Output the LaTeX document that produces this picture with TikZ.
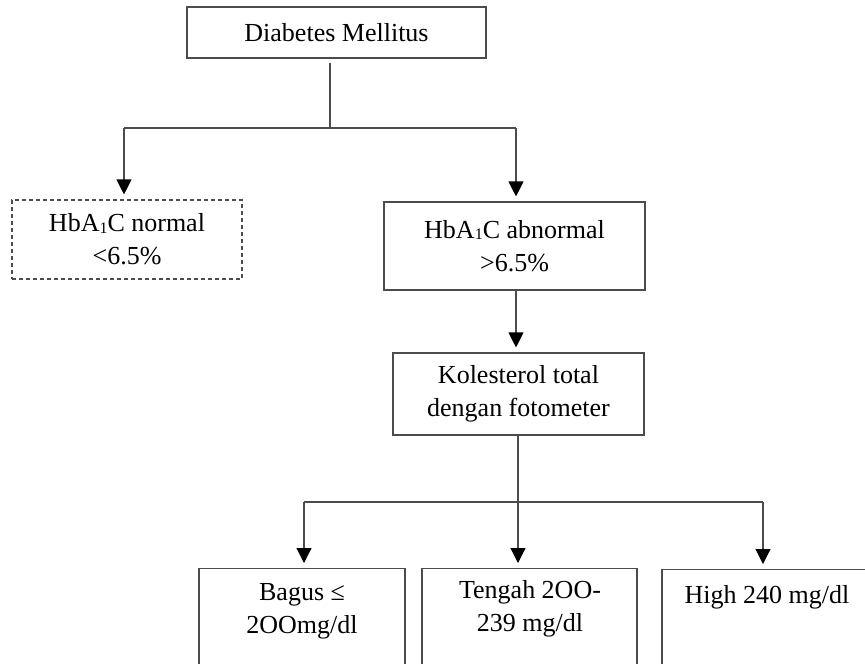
\documentclass[tikz,border=0pt]{standalone}
\usepackage{fontspec}
\setmainfont{Liberation Serif}
\usetikzlibrary{arrows.meta}
\newcommand{\subone}{\raisebox{-1.5pt}{\fontsize{16}{16}\selectfont 1}}
\begin{document}
\begin{tikzpicture}[x=1pt,y=-1pt,
  lncol/.style={draw=black!70,line width=1.1pt},
  box/.style={lncol,inner sep=0pt},
  dbox/.style={box,dash pattern=on 4pt off 3pt},
  txt/.style={align=center,font=\fontsize{26}{33}\selectfont,inner sep=0pt,text=black},
  arr/.style={lncol,-{Triangle[width=15pt,length=15pt,color=black,fill=black]},shorten >=5pt},
  ln/.style={lncol}]
\useasboundingbox (0,0) rectangle (865,664);
\clip (0,0) rectangle (865,664);
% boxes
\node[box,txt,minimum width=299pt,minimum height=51pt] (dm) at (336.5,32.5) {Diabetes Mellitus};
\node[dbox,txt,minimum width=230pt,minimum height=79pt] (norm) at (127,239.5) {HbA\subone C normal\\<6.5\%};
\node[box,txt,minimum width=261pt,minimum height=88pt] (abn) at (514.5,246) {HbA\subone C abnormal\\>6.5\%};
\node[box,txt,minimum width=251pt,minimum height=82pt] (kol) at (518.5,394) {Kolesterol total\\dengan fotometer};
\node[box,minimum width=206pt,minimum height=132pt,anchor=north] (b1) at (302,568) {};
\node[box,minimum width=215pt,minimum height=132pt,anchor=north] (b2) at (529.5,568) {};
\node[box,minimum width=238pt,minimum height=132pt,anchor=north] (b3) at (781,569) {};
\node[txt] (t1) at (302,611) {Bagus ≤\\2OOmg/dl};
\node[txt] (t2) at (530,609) {Tengah 2OO-\\239 mg/dl};
\node[txt] (t3) at (767,597) {High 240 mg/dl};
% connectors
\coordinate (j1) at (330,128);
\coordinate (l1) at (124,128);
\coordinate (r1) at (516,128);
\draw[ln,shorten <=4pt] (j1 |- dm.south) -- (j1);
\draw[ln] (l1) -- (r1);
\draw[arr] (l1) -- (l1 |- norm.north);
\draw[arr] (r1) -- (r1 |- abn.north);
\coordinate (c1) at (516,0);
\draw[arr] (c1 |- abn.south) -- (c1 |- kol.north);
\coordinate (j2) at (518,502);
\coordinate (a1) at (304,502);
\coordinate (a3) at (763,502);
\draw[ln] (j2 |- kol.south) -- (j2);
\draw[ln] (a1) -- (a3);
\draw[arr] (a1) -- (a1 |- b1.north);
\draw[arr] (j2) -- (j2 |- b2.north);
\draw[arr] (a3) -- (a3 |- b3.north);
\end{tikzpicture}
\end{document}
